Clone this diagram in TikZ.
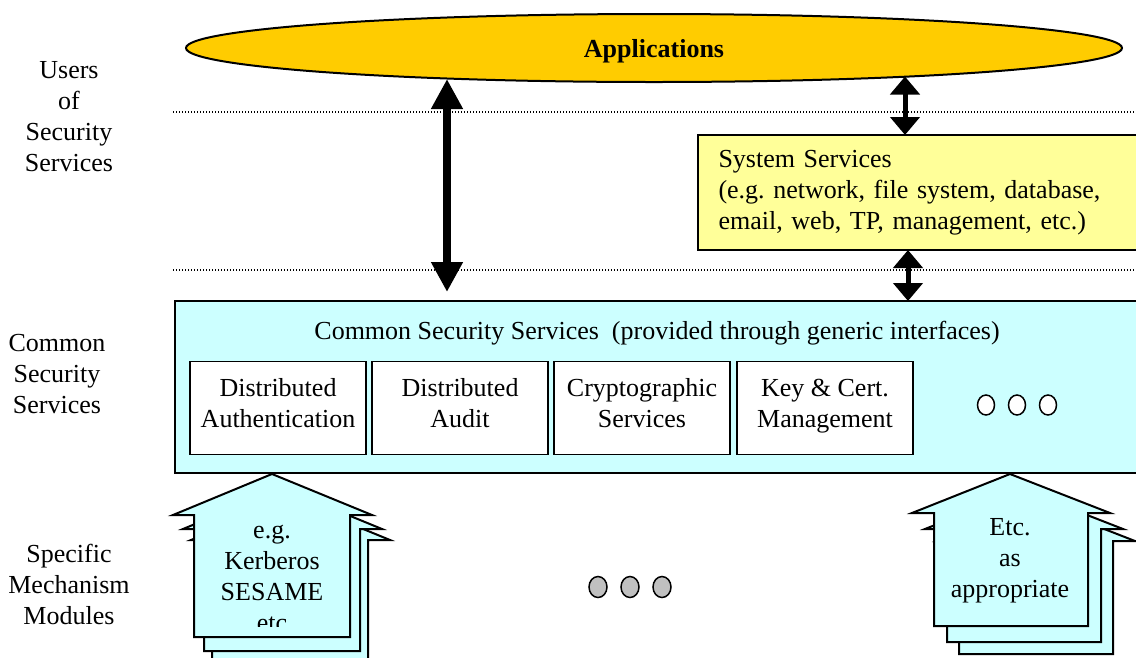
\documentclass[tikz,border=0pt]{standalone}
\usepackage{fontspec}
\setmainfont{Liberation Serif}
\usetikzlibrary{shapes.geometric,arrows.meta,calc}
\definecolor{appyellow}{HTML}{FFCC00}
\definecolor{sysyellow}{HTML}{FFFF99}
\definecolor{cssblue}{HTML}{CCFFFF}
\definecolor{dotgray}{HTML}{C0C0C0}
\begin{document}
\frenchspacing
\begin{tikzpicture}[x=1pt,y=-1pt,
  every node/.style={font=\fontsize{26}{31}\selectfont, inner sep=0pt, outer sep=0pt},
  lbl/.style={align=center},
  layerline/.style={dash pattern=on 1.4pt off 1.6pt, line width=1.4pt},
  bigarrow/.style={line width=8pt, {Triangle[width=30pt,length=30pt]}-{Triangle[width=30pt,length=30pt]}},
  smallarrow/.style={line width=5pt, {Triangle[width=29pt,length=18pt]}-{Triangle[width=29pt,length=18pt]}},
  svcbox/.style={draw, line width=1.5pt, fill=white, minimum width=176pt, minimum height=93pt, align=center},
  modshape/.style={fill=cssblue, draw=black, line width=2pt, line join=miter},
  hollowdot/.style={draw, line width=1.5pt, fill=white},
  graydot/.style={draw, line width=1.5pt, fill=dotgray}
]
\useasboundingbox (0,0) rectangle (1136,657);
\begin{scope}
\clip (0,0) rectangle (1136,657);

% layer separators
\draw[layerline] (173,112) -- (1136,112);
\draw[layerline] (173,270) -- (1136,270);

% left labels
\node[lbl] (lusers) at (69,117) {Users\\of\\Security\\Services};
\node[lbl] (lcommon) at (57,374) {Common\\Security\\Services};
\node[lbl] (lspec) at (69,584) {Specific\\Mechanism\\Modules};

% applications
\node[ellipse, draw, line width=2pt, fill=appyellow, minimum width=936pt, minimum height=68pt,
      text depth=0pt, font=\fontsize{26}{30}\selectfont\bfseries] (app) at (654,48) {Applications};

% system services
\node[draw, line width=2pt, fill=sysyellow, anchor=north west, minimum width=445pt, minimum height=115pt,
      text width=404pt, inner xsep=20pt, align=left] (sys) at (698,135)
  {System Services\\(e.g. network, file system, database,\\email, web, TP, management, etc.)};

% common security services
\node[draw, line width=2pt, fill=cssblue, anchor=north west, minimum width=968pt, minimum height=172pt] (css) at (175,301) {};
\node (csstitle) at (657,333) {Common Security Services\ \ (provided through generic interfaces)};
\node[svcbox] (auth) at (278,408) {Distributed\\Authentication\strut};
\node[svcbox] (audit) at (460,408) {Distributed\\Audit\strut};
\node[svcbox] (crypto) at (642,408) {Cryptographic\\Services\strut};
\node[svcbox] (keymgmt) at (825,408) {Key \& Cert.\\Management\strut};
\draw[hollowdot] (986,405) ellipse [x radius=8.5, y radius=10];
\draw[hollowdot] (1017,405) ellipse [x radius=8.5, y radius=10];
\draw[hollowdot] (1048,405) ellipse [x radius=8.5, y radius=10];

% arrows
\coordinate (a1) at ($(app.center)+(-207,31)$);
\draw[bigarrow, shorten >=9pt] (a1) -- (a1 |- css.north);
\coordinate (a2) at ($(app.center)+(251,28.5)$);
\draw[smallarrow] (a2) -- (a2 |- sys.north);
\coordinate (a3) at ($(sys.south west)+(210,0)$);
\draw[smallarrow] (a3) -- (a3 |- css.north);

% left mechanism module stack
\foreach \dx/\dy in {18/25, 10/14, 0/0}{
  \begin{scope}[shift={(\dx,\dy)}]
    \draw[modshape] (272,474) -- (372,515) -- (350,515) -- (350,637) -- (194,637) -- (194,515) -- (173,515) -- cycle;
  \end{scope}
}
\begin{scope}
  \clip (180,480) rectangle (360,626);
  \node[lbl] (kerb) at (272,578) {e.g.\\Kerberos\\SESAME\\etc};
\end{scope}

% right mechanism module stack
\foreach \dx/\dy in {25/28, 13/16, 0/0}{
  \begin{scope}[shift={(\dx,\dy)}]
    \draw[modshape] (1010,474) -- (1110,513) -- (1088,513) -- (1088,626) -- (934,626) -- (934,513) -- (912,513) -- cycle;
  \end{scope}
}
\node[lbl] (etcmod) at (1010,561) {Etc.\\as\\appropriate};

% middle dots
\draw[graydot] (598,587) ellipse [x radius=9, y radius=10.5];
\draw[graydot] (630,587) ellipse [x radius=9, y radius=10.5];
\draw[graydot] (662,587) ellipse [x radius=9, y radius=10.5];
\end{scope}
\end{tikzpicture}
\end{document}
